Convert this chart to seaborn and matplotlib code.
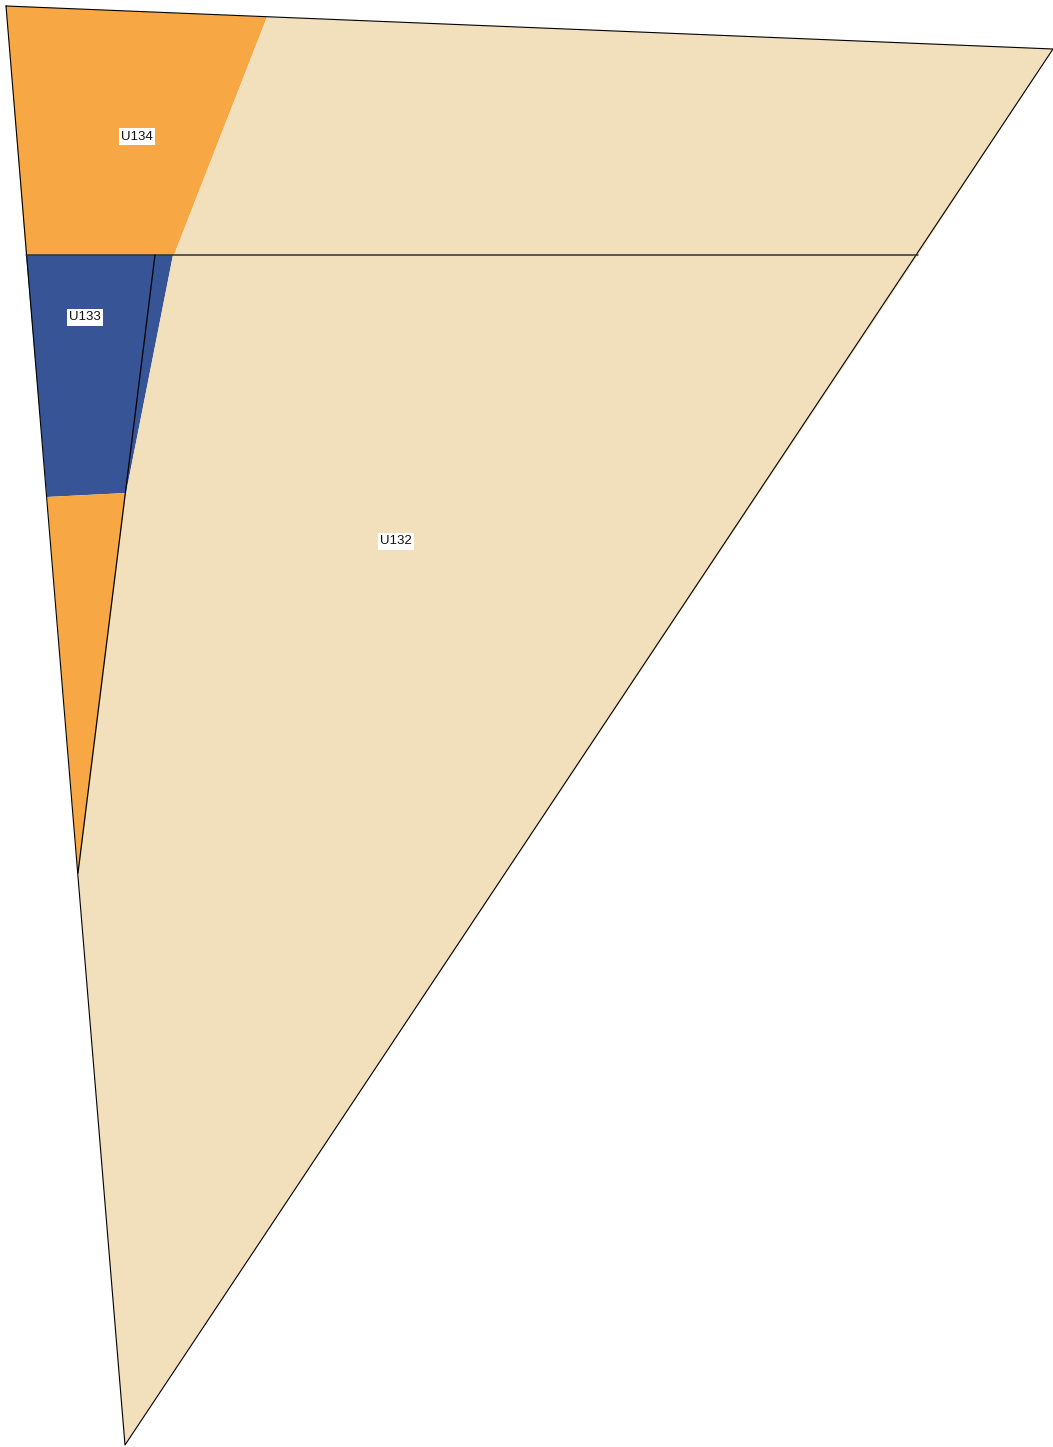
import matplotlib
matplotlib.use("Agg")
import matplotlib.pyplot as plt
import seaborn as sns

sns.set_theme(style="white")
plt.rcParams['font.family'] = ['Liberation Sans', 'DejaVu Sans']

# map units (vertices of each unit, x / y)
u134_x = [6, 267, 174, 26]
u134_y = [6, 17, 255, 255]
u132_top_x = [267, 1053, 918, 174]
u132_top_y = [17, 49, 255, 255]
u133_x = [26, 173, 126, 47]
u133_y = [255, 255, 493, 497]
u134_low_x = [47, 126, 78]
u134_low_y = [497, 493, 873]
u132_x = [173, 918, 125, 78, 126]
u132_y = [255, 255, 1445, 873, 493]

# outline, contact and fault
outline_x = [6, 1053, 125, 6]
outline_y = [6, 49, 1445, 6]
contact_x = [26, 918]
contact_y = [255, 255]
fault_x = [155, 78]
fault_y = [255, 873]

labels = ["U134", "U133", "U132"]
label_x = [137, 85, 396]
label_y = [136.5, 317.5, 541.5]

orange = "#F7A845"
beige = "#F2DFBB"
blue = "#365496"

fig = plt.figure(figsize=(10.53, 14.47), dpi=100)
ax = fig.add_axes([0, 0, 1, 1])

ax.fill(u134_x, u134_y, color=orange, lw=0)
ax.fill(u132_top_x, u132_top_y, color=beige, lw=0)
ax.fill(u133_x, u133_y, color=blue, lw=0)
ax.fill(u134_low_x, u134_low_y, color=orange, lw=0)
ax.fill(u132_x, u132_y, color=beige, lw=0)

ax.plot(outline_x, outline_y, color="black", lw=0.8)
ax.plot(contact_x, contact_y, color="#333333", lw=1.1)
ax.plot(fault_x, fault_y, color="black", lw=0.9)

for t, x, y in zip(labels, label_x, label_y):
    ax.text(x, y, t, ha="center", va="center", fontsize=9.5, color="#111111",
            bbox=dict(facecolor="white", edgecolor="none", pad=1.8))

ax.set_xlim(0, 1053)
ax.set_ylim(1447, 0)
ax.axis("off")

fig.savefig("out.png", dpi=100)
